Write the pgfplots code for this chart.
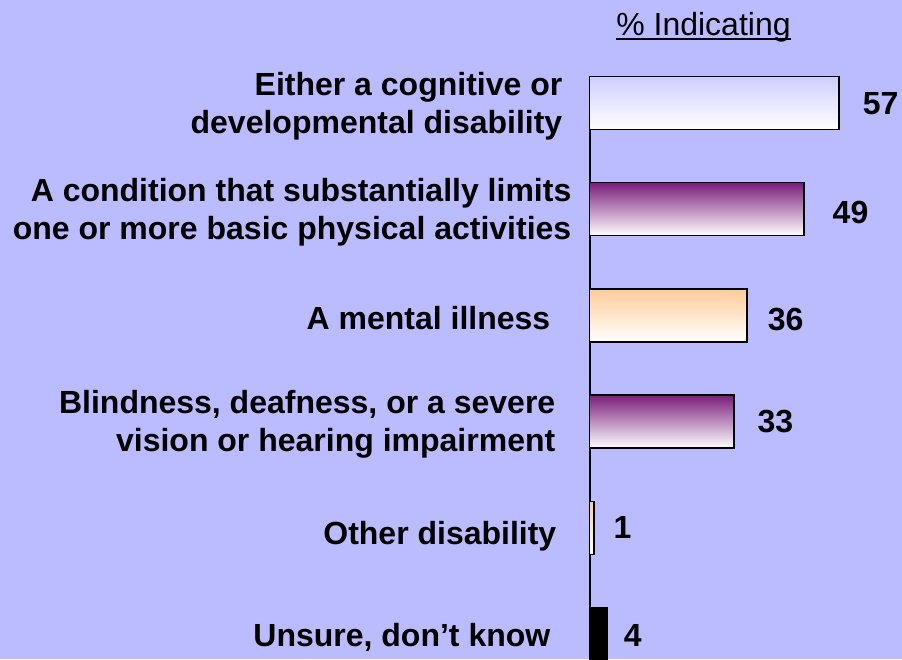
\documentclass[border=0pt]{standalone}
\usepackage{pgfplots}
\pgfplotsset{compat=1.18}
\usepackage{fontspec}
\setmainfont{Liberation Sans}
\definecolor{bg}{RGB}{187,187,255}
\definecolor{lav}{RGB}{206,206,255}
\definecolor{purp}{RGB}{122,28,122}
\definecolor{purpmid}{RGB}{192,168,196}
\definecolor{peach}{RGB}{255,204,153}
\begin{document}
\begin{tikzpicture}[x=1pt,y=1pt]
\fill[bg] (0,0) rectangle (902,659);
\path[use as bounding box] (0,0) rectangle (902,659);
\node[font=\fontsize{32}{38}\selectfont, anchor=base, inner sep=0pt] (t) at (703.5,623) {\% Indicating};
\draw[line width=2.2pt] ([yshift=-3pt]t.base west) -- ([yshift=-3pt]t.base east);
\begin{axis}[
  at={(589.5pt,-1.5pt)}, anchor=south west,
  scale only axis, width=306.4pt, height=573.5pt,
  xmin=0, xmax=70, ymin=-0.15, ymax=5.25, y dir=reverse,
  axis x line=none, axis y line*=left,
  y axis line style={line width=2pt},
  ytick={0,1,2,3,4,5}, major tick length=0pt,
  yticklabels={
    {Either a cognitive or\hspace*{9pt}\\developmental disability\hspace*{9pt}},
    {A condition that substantially limits\\one or more basic physical activities},
    {A mental illness\hspace*{21pt}},
    {Blindness, deafness, or a severe\hspace*{16pt}\\vision or hearing impairment\hspace*{16pt}},
    {\raisebox{-5pt}[\height][\depth]{Other disability}\hspace*{15pt}},
    {Unsure, don’t know\hspace*{21pt}}},
  yticklabel style={align=right, anchor=east, inner sep=0pt, xshift=-18pt, yshift=-3pt,
    font=\bfseries\fontsize{32}{38}\selectfont},
  clip=false,
  xbar, bar width=53pt, bar shift=0pt,
  point meta=x,
  nodes near coords,
  /pgf/number format/assume math mode=true,
  every node near coord/.append style={anchor=west, inner sep=0pt,
    font=\bfseries\fontsize{32}{38}\selectfont, text=black},
]
\addplot[xbar, draw=black, line width=1.5pt, top color=lav, bottom color=white,
  every node near coord/.append style={xshift=23pt, yshift=-1pt}]
  coordinates {(57,0)};
\addplot[xbar, draw=black, line width=1.5pt, top color=purp, middle color=purpmid, bottom color=white,
  every node near coord/.append style={xshift=28pt, yshift=-3pt}]
  coordinates {(49,1)};
\addplot[xbar, draw=black, line width=1.5pt, top color=peach, bottom color=white,
  every node near coord/.append style={xshift=20pt, yshift=-4pt}]
  coordinates {(36,2)};
\addplot[xbar, draw=black, line width=1.5pt, top color=purp, middle color=purpmid, bottom color=white,
  every node near coord/.append style={xshift=23pt}]
  coordinates {(33,3)};
\addplot[xbar, draw=black, line width=1.5pt, top color=peach, bottom color=white,
  every node near coord/.append style={xshift=19pt}]
  coordinates {(1,4)};
\addplot[xbar, draw=black, line width=1.5pt, fill=black,
  every node near coord/.append style={xshift=16pt, yshift=-2pt}]
  coordinates {(4,5)};
\end{axis}
\end{tikzpicture}
\end{document}
